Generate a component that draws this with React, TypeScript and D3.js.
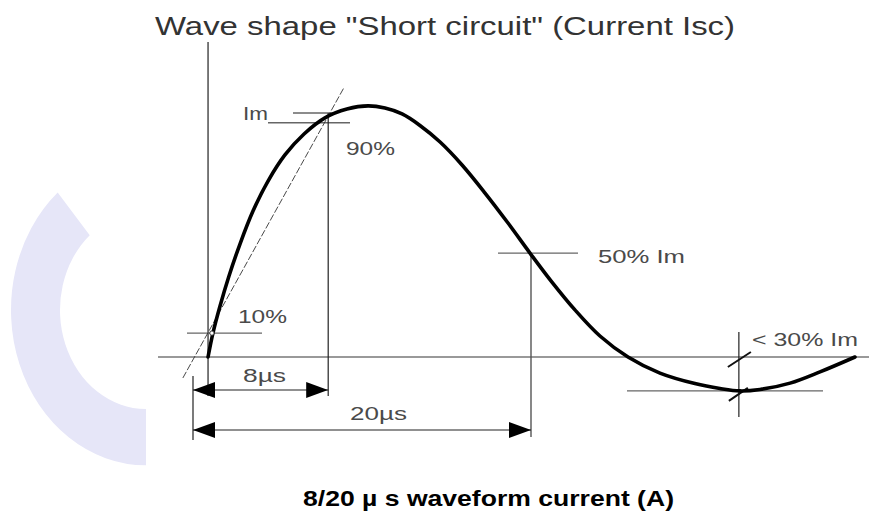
import * as d3 from "d3";

// curve: time in µs, current as fraction of Im
const waveT = [0.89, 1.18, 1.6, 2.13, 2.78, 3.55, 4.44, 5.44, 6.57, 7.81, 9.11, 10.36, 11.36, 12.37, 13.43, 14.62, 15.92, 17.28, 18.64, 19.94, 21.24, 22.6, 24.08, 25.74, 27.63, 29.7, 31.18, 32.37, 33.55, 35.33, 37.1, 39.17];
const waveI = [0.0, 0.098, 0.209, 0.332, 0.463, 0.598, 0.721, 0.828, 0.914, 0.98, 1.016, 1.029, 1.02, 0.996, 0.949, 0.881, 0.787, 0.672, 0.549, 0.426, 0.307, 0.193, 0.086, 0.0, -0.066, -0.109, -0.129, -0.139, -0.133, -0.107, -0.061, 0.0];

// front tangent through the 10% and 90% points
const tangentT = [-0.6, 8.9];
const tangentI = [-0.086, 1.1];

// guide levels as drawn
const levelIm = 1.0;
const level90 = 0.96;
const level10 = 0.098;
const level50 = 0.426;
const levelMin = -0.139;

// time marks (µs)
const frontTime = 8;
const halfTime = 20;
const minTime = 32.3;

const title = 'Wave shape "Short circuit" (Current Isc)';
const caption = "8/20 µ s waveform current (A)";

export default function App() {
  const width = 871,
    height = 514;
  const x = d3.scaleLinear().domain([0, 40]).range([193, 869]);
  const y = d3.scaleLinear().domain([0, 1]).range([357, 113]);

  const pts = waveT.map((t, i) => [t, waveI[i]]);
  const line = d3
    .line()
    .x((d) => x(d[0]))
    .y((d) => y(d[1]))
    .curve(d3.curveCatmullRom.alpha(0.5));

  const deco = d3.arc()({
    innerRadius: 86,
    outerRadius: 135,
    startAngle: Math.PI,
    endAngle: 5.57,
  });

  const x0 = x(0),
    x8 = x(frontTime),
    x20 = x(halfTime),
    xMin = x(minTime),
    xStart = x(waveT[0]);
  const y0 = y(0);

  const font = "'Liberation Sans', Arial, sans-serif";
  const labelFill = "#4a4a4a";
  const guide = "#666";
  const lab = (txt, lx, ly, len) => (
    <text
      x={lx}
      y={ly}
      fontFamily={font}
      fontSize={19}
      fill={labelFill}
      textLength={len}
      lengthAdjust="spacingAndGlyphs"
    >
      {txt}
    </text>
  );

  return (
    <svg
      width={width}
      height={height}
      style={{ position: "absolute", left: 0, top: 0, background: "#fff" }}
    >
      <defs>
        <marker
          id="arr"
          viewBox="0 0 22 16"
          refX={22}
          refY={8}
          markerWidth={22}
          markerHeight={16}
          markerUnits="userSpaceOnUse"
          orient="auto-start-reverse"
        >
          <path d="M0,0 L22,8 L0,16 Z" fill="#000" />
        </marker>
      </defs>
      <rect width={width} height={height} fill="#fff" />
      <path
        d={deco}
        transform="translate(146,310) scale(1,1.15)"
        fill="#e6e6f8"
      />

      <text
        x={155}
        y={35}
        fontFamily={font}
        fontSize={26}
        fill="#333"
        textLength={580}
        lengthAdjust="spacingAndGlyphs"
      >
        {title}
      </text>

      {/* baseline and axis */}
      <line x1={158} x2={869} y1={y0} y2={y0} stroke="#777" strokeWidth={1.6} />
      <line x1={xStart} x2={xStart} y1={42} y2={396} stroke="#222" strokeWidth={1.2} />

      {/* guide lines */}
      <line x1={293} x2={335} y1={y(levelIm)} y2={y(levelIm)} stroke={guide} strokeWidth={1.3} />
      <line x1={268} x2={350} y1={y(level90)} y2={y(level90)} stroke={guide} strokeWidth={1.3} />
      <line x1={187} x2={262} y1={y(level10)} y2={y(level10)} stroke={guide} strokeWidth={1.3} />
      <line x1={498} x2={578} y1={y(level50)} y2={y(level50)} stroke={guide} strokeWidth={1.3} />
      <line x1={627} x2={823} y1={y(levelMin)} y2={y(levelMin)} stroke={guide} strokeWidth={1.3} />

      {/* verticals */}
      <line x1={x8} x2={x8} y1={y(levelIm)} y2={396} stroke="#222" strokeWidth={1.2} />
      <line x1={x20} x2={x20} y1={y(level50)} y2={437} stroke="#555" strokeWidth={1.4} />
      <line x1={x0} x2={x0} y1={376} y2={440} stroke="#222" strokeWidth={1.2} />
      <line x1={xMin} x2={xMin} y1={332} y2={417} stroke="#222" strokeWidth={1.2} />
      <line x1={xMin - 11} x2={xMin + 12} y1={y0 + 10} y2={y0 - 5} stroke="#111" strokeWidth={2} />
      <line x1={xMin - 10} x2={xMin + 9} y1={y(levelMin) + 10} y2={y(levelMin) - 3} stroke="#111" strokeWidth={2} />

      {/* tangent */}
      <line
        x1={x(tangentT[0])}
        y1={y(tangentI[0])}
        x2={x(tangentT[1])}
        y2={y(tangentI[1])}
        stroke="#333"
        strokeWidth={0.9}
        strokeDasharray="7,2"
      />

      {/* dimension arrows */}
      <line x1={x0} x2={x8} y1={390} y2={390} stroke="#222" strokeWidth={1.2} markerStart="url(#arr)" markerEnd="url(#arr)" />
      <line x1={x0} x2={x20} y1={430} y2={430} stroke="#222" strokeWidth={1.2} markerStart="url(#arr)" markerEnd="url(#arr)" />

      {/* wave */}
      <path d={line(pts)} fill="none" stroke="#000" strokeWidth={3.6} strokeLinecap="round" />
      <circle cx={x(1.12)} cy={y(level10)} r={2.2} fill="#fff" stroke="#333" strokeWidth={1} />

      {lab("Im", 243, 120, 25)}
      {lab("90%", 346, 155, 49)}
      {lab("10%", 238, 323, 49)}
      {lab("8µs", 243, 382, 43)}
      {lab("20µs", 350, 420, 57)}
      {lab("50% Im", 598, 263, 87)}
      {lab("< 30% Im", 752, 346, 106)}

      <text
        x={303}
        y={506}
        fontFamily={font}
        fontWeight="bold"
        fontSize={22}
        fill="#000"
        textLength={371}
        lengthAdjust="spacingAndGlyphs"
      >
        {caption}
      </text>
    </svg>
  );
}
